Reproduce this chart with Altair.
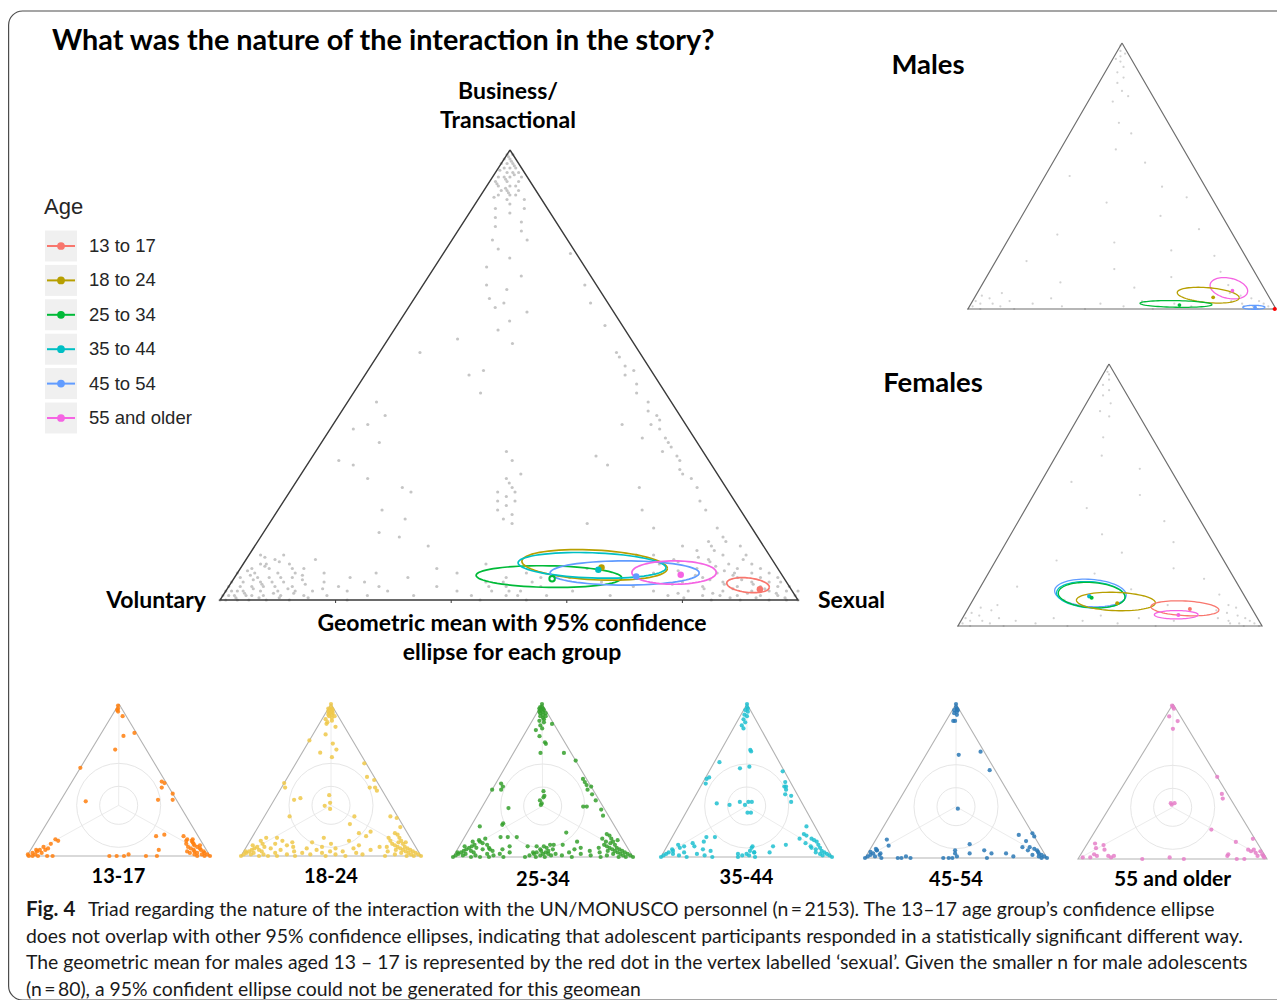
import math
import altair as alt
import pandas as pd

# ------------------------------------------------------------------ data
AGES = ["13 to 17", "18 to 24", "25 to 34", "35 to 44", "45 to 54", "55 and older"]
AGE_COLORS = ["#F8766D", "#B79F00", "#00BA38", "#00BFC4", "#619CFF", "#F564E3"]
SMALL_LABELS = ["13-17", "18-24", "25-34", "35-44", "45-54", "55 and older"]
SMALL_COLORS = ["#ff7f0e", "#eec84a", "#35a02d", "#1fbfd0", "#2a78b5", "#e57fc8"]

# points as (Business/Transactional %, Sexual %); Voluntary = 100 - both
MAIN_GRAY = [
    (99,0),(98,1),(97,1),(96,2),(95,2),(94,3),(93,3),(92,4),(91,4),(90,5),(98,0),(97,2),(96,1),(95,3),(94,1),
    (93,5),(92,2),(91,6),(90,3),(89,5),(88,6),(87,4),(86,7),(85,5),(99,1),(96,3),(94,5),(93,1),(89,8),(87,9),
    (97,0),(95,4),(94,2),(92,5),(91,3),(90,6),
    (98.5,0.5),(97.5,1.5),(96.5,2.5),(95.5,0.5),(94.5,3.5),(93.5,2.5),(92.5,1.5),(91.5,3.5),(90.5,4.5),(89.5,2.5),
    (84,10),(83,6),(82,11),(80,7),(80,13),(78,9),(76,12),(77,22),(74,9),(72,16),(70,11),(69,15),(67,13),(66,16),
    (65,15),(64,21),(62,19),(60,18),(58,12),(57,22),
    (70,28),(66,31),(61,36),(55,41),(54,42),(52,44),(51,46),(50,45),(48,48),(46,49),(44,52),(42,53),(41,55),
    (40,56),(39,55),(38,57),(36,59),(35,60),(34,61),(33,60),(32,63),(31,64),(29,65),(28,66),(27,68),(25,70),
    (22,72),(20,74),(16,78),(13,81),(12,84),(10,86),
    (39,50),(36,55),(32,49),(30,52),(25,60),(20,63),(17,55),(16,67),(12,74),(10,67),(10,70),(9,74),(8,72),
    (31,35),(27,36),(26,37),(25,38),(24,36),(24,39),(23,38),(22,37),(22,40),(21,39),(20,38),(19,41),(18,40),
    (17,42),(28,38),(33,33),
    (55,7),(51,20),(50,18),(46,22),(44,5),(41,8),(39,6),(38,4),(35,10),(31,5),(30,8),(27,12),(25,19),(24,21),
    (20,18),(18,23),(15,20),(14,24),(12,30),(10,6),(9,12),(8,4),(7,9),(6,15),
    (0,0),(1,0),(2,1),(3,0),(4,2),(5,1),(6,3),(7,2),(1,2),(2,3),(3,4),(4,5),(5,6),(6,7),(0,3),(1,5),(2,6),(3,8),
    (4,9),(5,10),(0,8),(1,10),(2,12),(3,11),(6,0),(7,5),(8,3),(3,2),(2,0),(1,7),(0,5),(5,4),(4,0),(8,8),(6,10),
    (0,1),(1,1),(2,2),(0,12),(1,14),(3,6),(4,7),(2,9),(5,8),(9,5),(10,2),(7,11),(1,4),
    (0.5,2.5),(1.5,3.5),(2.5,4.5),(3.5,5.5),(4.5,3.5),(5.5,2.5),(6.5,1.5),(7.5,4),(8.5,6),(9.5,3),(0.5,6.5),
    (1.5,8.5),(2.5,10.5),(3.5,13),(4.5,12),(5.5,11.5),(0.5,10),(1.5,12),(0.5,15),(2.5,16.5),
    (2,15),(4,16),(1,18),(3,19),(5,20),(2,21),(0,22),(4,23),(6,24),(1,25),(3,26),(2,28),(5,30),(1,33),(3,36),
    (6,38),(2,40),(1,43),(4,44),(0,45),(2,46),(5,47),(3,48),(1,49),(6,50),(2,51),(4,52),(0,53),(3,54),(1,56),
    (5,58),(2,60),(4,64),(1,67),(3,70),(6,72),(2,74),(7,34),(8,42),(7,60),(4,47),(2,49),(3,45),(1,51),(5,53),
    (0,100),(1,99),(0,98),(2,97),(1,96),(3,95),(2,94),(4,93),(1,93),(3,92),(5,91),(2,91),(4,90),(6,89),(1,89),
    (3,88),(5,87),(7,86),(2,86),(4,85),(8,84),(6,83),(1,83),(3,82),(5,81),(9,80),(2,80),(7,79),(4,78),(1,77),
    (10,82),(8,88),(6,92),(0,95),(0,90),(1,86),(0,85),(3,97),(2,99),(5,94),(7,90),(9,86),(11,80),(4,95),(6,86),
    (0.5,97.5),(1.5,95.5),(2.5,93),(3.5,90.5),(4.5,88),(5.5,86),(6.5,84),(7.5,82),(8.5,80.5),(9.5,78),(11,77),
    (12,79),(13,78),(14,80),(0.5,92.5),(1.5,90.5),(2.5,87.5),(3.5,85.5),(4.5,82.5),(5.5,79.5),(0.5,88),
    (1.5,84.5),(2.5,82.5),(0.5,80),(1.5,78.5),(3.5,76.5),(6.5,76),(8.5,75),
]
MALE_GRAY = [
    (99,0),(97,1),(95,2),(93,3),(96,3),(94,1),(91,5),(89,4),(87,7),(85,6),(82,9),(80,12),(78,8),
    (70,14),(66,20),(60,18),(55,30),(50,8),(46,40),(42,50),(40,25),(35,45),(30,60),(28,15),(25,35),(22,55),
    (20,70),(18,10),(15,40),(14,75),(12,60),(10,25),(9,80),(8,50),
    (0,0),(1,1),(2,3),(3,1),(4,5),(0,4),(5,2),(2,7),(1,10),(6,8),(3,12),(0,15),(2,20),(4,25),(1,30),
    (0,38),(2,42),(1,50),(3,55),(0,60),(2,66),(1,72),
    (0,99),(1,97),(2,95),(3,93),(1,92),(4,90),(2,88),(5,86),(3,84),(6,82),(0,94),(1,89),
]
FEMALE_GRAY = [
    (99,0),(97,1),(96,2),(94,3),(92,2),(90,5),(88,4),(85,8),(82,6),(80,10),
    (72,12),(65,15),(60,30),(55,10),(50,35),(45,20),(40,48),(35,30),(32,55),(28,40),(25,20),(22,60),(20,35),
    (18,72),(15,12),(14,50),(12,80),(10,30),(8,65),
    (0,0),(1,1),(2,3),(3,1),(4,5),(0,4),(5,2),(2,7),(1,10),(6,8),(3,12),(7,4),(8,9),(0,15),(2,18),
    (1,25),(3,30),(0,36),(2,40),(4,45),(1,52),(3,58),(0,65),(2,70),
    (0,99),(1,97),(2,95),(3,93),(1,92),(4,90),(2,88),(5,86),(3,84),(6,82),(8,85),(0,94),(1,89),(7,88),
]

PTS_13_17 = [
    (99,0),(97,1),(96,1),(95,2),(92,6),(79,13),(81,18),(70,13),(58,0),(49,49),(48,51),(45,51),(37,53),(41,59),
    (37,61),(36,14),(11,10),
    (0,1),(2,2),(3,4),(4,5),(6,6),(4,8),(0,11),(0,14),(0,6),(2,7),(4,3),(1,0),(0,3),(1,4),(5,9),(8,9),(10,12),
    (0,45),(0,49),(0,53),(1,55),(0,65),(0,71),(4,70),(13,64),(14,68),(13,79),(10,82),(11,85),
    (0,100),(1,98),(2,96),(3,95),(4,93),(5,92),(6,90),(7,88),(8,87),(9,86),(10,85),(2,92),(3,90),(4,89),(5,87),
    (1,95),(0,97),(6,85),(8,83),(11,82),(1,91),(3,86),(0,93),(2,88),(7,91),
]
PTS_18_24 = [
    (100,0),(98,1),(97,2),(96,1),(95,3),(94,2),(93,4),(92,3),(91,5),(90,2),(89,6),(88,4),(96,3),(94,4),(92,6),
    (97,0),(95,1),(93,2),
    (87,4),(85,10),(80,7),(74,14),(70,18),(65,18),(68,10),
    (61,38),(52,44),(50,49),(45,52),(43,54),(45,49),(26,70),(25,74),(19,79),(15,78),(9,87),
    (40,29),(35,32),(33,30),(31,34),
    (45,2),(48,0),(37,11),(38,14),(26,14),(76,0),
    (26,50),(21,50),(15,58),(16,64),(13,63),
    (0,0),(1,1),(2,2),(3,3),(4,4),(5,5),(6,6),(2,6),(4,8),(6,10),(8,8),(10,6),(3,10),(1,12),(0,15),(5,14),(8,15),
    (10,18),(12,14),(2,18),(0,20),(4,20),(7,22),(1,25),(3,28),(6,26),(9,24),(0,30),(2,33),(5,34),(1,5),(3,1),
    (7,3),(12,8),(0,10),
    (1,38),(4,40),(2,44),(6,42),(0,47),(3,48),(5,50),(1,52),(8,46),(3,55),(0,58),(5,60),(2,63),(7,62),(1,67),
    (4,70),(6,74),(10,55),(12,40),(9,35),
    (0,100),(1,98),(2,96),(3,94),(4,92),(5,90),(6,88),(8,86),(10,84),(12,82),(2,92),(4,88),(6,84),(8,80),
    (10,78),(1,94),(3,90),(5,86),(7,82),(0,96),(14,80),(12,76),(9,83),(0,92),(2,88),(4,84),(1,85),(3,80),
    (6,78),(0,80),
]
PTS_25_34 = [
    (100,0),(98,1),(97,2),(96,1),(95,3),(94,2),(93,4),(92,3),(91,5),(90,6),(89,4),(88,7),(86,6),(84,8),(96,3),
    (94,5),(92,6),(98,0),(97,0),(95,1),
    (83,5),(79,9),(75,14),(74,15),(68,15),(87,12),
    (68,28),(63,37),(51,47),(47,51),(46,54),(41,57),(37,61),(31,67),(27,70),(33,58),(33,56),(44,53),(49,49),
    (37,30),(35,32),(34,32),(39,31),(40,31),(43,29),
    (48,3),(44,5),(44,0),(46,5),(32,15),(20,5),(21,17),(22,17),(13,20),
    (16,55),(10,64),(8,57),(7,38),(7,43),(8,52),(13,24),(13,29),(7,28),(5,18),
    (0,0),(1,1),(2,2),(3,3),(4,4),(5,5),(6,6),(7,7),(2,6),(4,8),(6,10),(8,8),(10,6),(3,10),(1,12),(0,15),(5,14),
    (8,15),(10,10),(12,12),(2,18),(0,20),(4,20),(6,17),(9,12),(11,9),(1,5),(3,1),(7,3),(0,10),(5,25),(2,25),
    (0,28),(3,30),(1,22),
    (0,40),(1,42),(2,44),(3,45),(4,47),(5,46),(1,48),(2,49),(3,50),(0,51),(4,51),(6,49),(2,52),(1,54),(5,53),
    (3,43),(7,47),(0,46),(8,50),(2,56),
    (1,60),(3,63),(0,66),(5,65),(2,70),(6,68),(4,74),(1,76),
    (0,100),(1,98),(2,96),(3,94),(4,92),(5,90),(6,88),(8,86),(10,84),(12,82),(2,92),(4,88),(6,84),(8,80),
    (10,80),(1,94),(3,90),(5,86),(7,82),(0,96),(14,80),(12,77),(9,83),(0,92),(2,88),(4,84),(1,85),(3,80),
    (6,78),(0,82),(15,78),(11,86),
]
PTS_35_44 = [
    (100,0),(98,1),(97,2),(96,1),(95,3),(93,2),(92,4),(90,3),(88,5),(86,4),(84,6),
    (70,17),(69,18),(59,22),
    (62,3),(51,1),(48,2),(52,2),(58,17),
    (36,28),(34,32),(36,33),(36,35),(29,36),(29,38),(35,15),(34,23),
    (56,43),(49,48),(46,50),(44,51),(41,52),(40,56),(36,58),(46,49),
    (13,25),(13,20),(10,20),(7,16),(7,50),(3,53),(3,62),(7,62),(20,75),(15,76),(12,75),(8,69),
    (0,0),(1,1),(2,2),(3,3),(4,5),(6,8),(2,6),(5,4),(8,6),(1,10),(3,12),(0,15),(2,20),(5,22),(1,25),(4,27),
    (0,30),(7,10),(9,14),
    (0,45),(1,47),(2,49),(4,50),(1,51),(3,53),(0,55),(6,50),(2,44),
    (0,100),(1,98),(2,96),(3,94),(4,92),(6,90),(8,88),(10,86),(5,88),(7,84),(12,82),(2,92),(1,94),(9,80),
    (14,78),(11,84),(3,89),(6,85),
]
PTS_45_54 = [
    (100,0),(98,1),(97,2),(96,1),(95,3),(94,2),(93,4),(96,3),(89,5),(89,4),(67,18),(69,29),(57,40),(32,35),
    (0,0),(1,1),(2,2),(3,3),(4,1),(1,5),(5,4),(2,7),(0,9),(6,3),(12,6),(8,9),(3,7),(5,4),
    (0,18),(0,20),(1,22),(0,25),(0,43),(0,46),(0,48),(5,47),(3,48),(1,50),(9,53),(3,56),(5,63),(3,68),(0,67),
    (3,76),(1,81),
    (15,77),(7,83),(11,83),(5,87),(16,84),(14,86),(7,87),
    (0,100),(1,98),(2,96),(3,94),(4,93),(1,95),(0,97),(5,92),(2,91),(6,90),
]
PTS_55_OLDER = [
    (99,0),(98,1),(97,2),(92,2),(89,8),(84,8),
    (36,31),(36,33),(35,32),
    (53,47),(42,55),(39,57),(19,61),(11,78),(13,86),(6,87),(5,89),(6,90),(4,92),(5,94),(3,96),(2,97),(1,98),
    (2,94),(2,78),(3,78),(0,84),(0,88),
    (10,4),(9,9),(7,6),(6,11),(3,7),(2,9),(2,15),(1,17),(1,2),(1,6),(2,18),
    (0,34),(1,48),(0,56),
]
SMALL_POINTS = [PTS_13_17, PTS_18_24, PTS_25_34, PTS_35_44, PTS_45_54, PTS_55_OLDER]

# confidence ellipses: group, centre (Business %, Sexual %), half-width / half-height
# (fraction of triangle base width / height), tilt in degrees
MAIN_ELLIPSES = [
    ("25 to 34", 5.2, 54.3, 0.126, 0.024, 1),
    ("18 to 24", 7.8, 60.9, 0.126, 0.033, 3),
    ("35 to 44", 7.7, 60.5, 0.128, 0.028, 2),
    ("45 to 54", 6.0, 67.0, 0.129, 0.027, 0),
    ("55 and older", 6.1, 75.5, 0.073, 0.026, 0),
    ("13 to 17", 3.3, 89.7, 0.037, 0.016, 6),
]
MAIN_MEANS = [
    ("18 to 24", 7.2, 62.4), ("35 to 44", 6.7, 62.1), ("45 to 54", 5.2, 69.4),
    ("55 and older", 5.6, 76.9), ("13 to 17", 2.4, 92.2),
]
MAIN_MEAN_HOLLOW = [("25 to 34", 4.7, 55.1)]
MALES_ELLIPSES = [
    ("55 and older", 7.8, 80.8, 0.062, 0.038, 12),
    ("18 to 24", 5.2, 75.4, 0.101, 0.028, 5),
    ("25 to 34", 1.9, 66.6, 0.117, 0.0125, 1),
    ("45 to 54", 0.64, 92.5, 0.036, 0.0075, 0),
]
MALES_MEANS = [("55 and older", 6.9, 82.4), ("18 to 24", 4.4, 77.4), ("25 to 34", 1.5, 67.9),
               ("45 to 54", 0.6, 92.9)]
MALES_13_17_MEAN = [(0.0, 99.6)]
FEMALES_ELLIPSES = [
    ("45 to 54", 12.6, 37.3, 0.118, 0.052, 4),
    ("35 to 44", 11.9, 37.8, 0.113, 0.050, 4),
    ("25 to 34", 11.8, 38.1, 0.110, 0.048, 4),
    ("18 to 24", 9.35, 47.3, 0.130, 0.035, 2),
    ("13 to 17", 6.75, 71.3, 0.112, 0.028, 3),
    ("55 and older", 4.3, 69.65, 0.072, 0.016, 0),
]
FEMALES_MEANS = [("45 to 54", 11.5, 37.45), ("35 to 44", 11.3, 37.55), ("25 to 34", 10.8, 38.6),
                 ("18 to 24", 8.7, 48.05), ("13 to 17", 6.5, 73.05), ("55 and older", 4.2, 70.4)]
BASE_TICKS = [20, 40, 60, 80]

CAPTION_LINES = [
    "Triad regarding the nature of the interaction with the UN/MONUSCO personnel (n\u2009=\u20092153). The 13\u201317 age group\u2019s confidence ellipse",
    "does not overlap with other 95% confidence ellipses, indicating that adolescent participants responded in a statistically significant different way.",
    "The geometric mean for males aged 13 \u2013 17 is represented by the red dot in the vertex labelled \u2018sexual\u2019. Given the smaller n for male adolescents",
    "(n\u2009=\u200980), a 95% confident ellipse could not be generated for this geomean",
]

# ------------------------------------------------------------------ layout
W, H = 1269, 992
X0, Y0 = 8, 8
P_MAIN = ((510, 150), (220, 600), (798, 600))
P_MALES = ((1122, 43), (968, 309), (1276, 309))
P_FEMALES = ((1109, 364), (958, 626), (1262, 626))
P_SMALL = [
    ((119, 704), (27, 856), (210, 856)),
    ((331, 704), (241, 856), (421, 856)),
    ((542, 704), (453, 857), (633, 857)),
    ((747, 704), (661, 857), (832, 857)),
    ((956, 704), (865, 858), (1047, 858)),
    ((1173, 704), (1078, 859), (1267, 859)),
]
SMALL_LABEL_Y = [877, 877, 880, 878, 880, 880]
BOLD = "Lato"
COLOR_OF = dict(zip(AGES, AGE_COLORS))


def tern(panel, T, R):
    (ax, ay), (lx, ly), (rx, ry) = panel
    V = 100.0 - T - R
    return ((T * ax + V * lx + R * rx) / 100.0, (T * ay + V * ly + R * ry) / 100.0)


def pts_df(panel, pts, **extra):
    rows = []
    for T, R in pts:
        x, y = tern(panel, T, R)
        rows.append(dict(x=x, y=y, **extra))
    return pd.DataFrame(rows)


xs = alt.Scale(domain=[X0, X0 + W], nice=False, zero=False)
ys = alt.Scale(domain=[Y0, Y0 + H], nice=False, zero=False, reverse=True)


def XE(f="x"):
    return alt.X(f"{f}:Q", scale=xs, axis=None)


def YE(f="y"):
    return alt.Y(f"{f}:Q", scale=ys, axis=None)


def color_enc():
    return alt.Color("c:N", scale=None, legend=None)


layers = []

# frame
frame = pd.DataFrame([dict(x=8.6, x2=1310, y=11, y2=1000)])
layers.append(alt.Chart(frame).mark_rect(cornerRadius=14, fillOpacity=0, stroke="#4d4d4d",
                                         strokeWidth=1.2).encode(
    x=XE(), x2=alt.X2("x2:Q"), y=YE(), y2=alt.Y2("y2:Q")))

# small-triangle guide circles and spokes
circ_rows, spoke_rows = [], []
for i, panel in enumerate(P_SMALL):
    cx, cy = tern(panel, 100 / 3, 100 / 3)
    circ_rows.append(dict(x=cx, y=cy, s=38 * 38))
    circ_rows.append(dict(x=cx, y=cy, s=84 * 84))
    for T, R in [(100, 0), (0, 0), (0, 100)]:
        vx, vy = tern(panel, T, R)
        spoke_rows.append(dict(x=cx, y=cy, x2=vx, y2=vy))
layers.append(alt.Chart(pd.DataFrame(spoke_rows)).mark_rule(color="#ececec", strokeWidth=1).encode(
    x=XE(), y=YE(), x2=alt.X2("x2:Q"), y2=alt.Y2("y2:Q")))
layers.append(alt.Chart(pd.DataFrame(circ_rows)).mark_point(shape="circle", filled=False, color="#e6e6e6",
                                                            strokeWidth=1, opacity=1).encode(
    x=XE(), y=YE(), size=alt.Size("s:Q", scale=None, legend=None)))

# triangle outlines
def outline_df(panels):
    rows = []
    for pid, panel in enumerate(panels):
        for k, (T, R) in enumerate([(100, 0), (0, 0), (0, 100), (100, 0)]):
            x, y = tern(panel, T, R)
            rows.append(dict(pid=pid, k=k, x=x, y=y))
    return pd.DataFrame(rows)


layers.append(alt.Chart(outline_df(P_SMALL)).mark_line(color="#b3b3b3", strokeWidth=1.1).encode(
    x=XE(), y=YE(), detail="pid:N", order="k:Q"))

# gray points
layers.append(alt.Chart(pts_df(P_MAIN, MAIN_GRAY)).mark_circle(color="#c2c2c2", size=10, opacity=0.95).encode(
    x=XE(), y=YE()))
layers.append(alt.Chart(pts_df(P_MALES, MALE_GRAY)).mark_circle(color="#d0d0d0", size=5, opacity=0.95).encode(
    x=XE(), y=YE()))
layers.append(alt.Chart(pts_df(P_FEMALES, FEMALE_GRAY)).mark_circle(color="#d0d0d0", size=5, opacity=0.95).encode(
    x=XE(), y=YE()))

# small-triangle coloured points
small_frames = [pts_df(P_SMALL[i], SMALL_POINTS[i], c=SMALL_COLORS[i]) for i in range(6)]
layers.append(alt.Chart(pd.concat(small_frames, ignore_index=True)).mark_circle(size=18, opacity=0.85).encode(
    x=XE(), y=YE(), color=color_enc()))

# main / males / females outlines
layers.append(alt.Chart(outline_df([P_MAIN])).mark_line(color="#3a3a3a", strokeWidth=1.4).encode(
    x=XE(), y=YE(), detail="pid:N", order="k:Q"))
layers.append(alt.Chart(outline_df([P_MALES, P_FEMALES])).mark_line(color="#6e6e6e", strokeWidth=1.2).encode(
    x=XE(), y=YE(), detail="pid:N", order="k:Q"))

# base ticks of the main triangle
tick_rows = []
for R in BASE_TICKS:
    x, y = tern(P_MAIN, 0, R)
    tick_rows.append(dict(x=x, y=y, y2=y + 3))
layers.append(alt.Chart(pd.DataFrame(tick_rows)).mark_rule(color="#3a3a3a", strokeWidth=1).encode(
    x=XE(), y=YE(), y2=alt.Y2("y2:Q")))

# ellipses
def ellipse_df(panel, ells, tag):
    (ax, ay), (lx, ly), (rx_, ry_) = panel
    bw, bh = rx_ - lx, ly - ay
    rows = []
    for j, (g, T, R, fu, fv, tilt) in enumerate(ells):
        cx, cy = tern(panel, T, R)
        a, b, th = fu * bw, fv * bh, math.radians(tilt)
        for k in range(0, 73):
            t = math.radians(k * 5)
            ex = cx + a * math.cos(t) * math.cos(th) - b * math.sin(t) * math.sin(th)
            ey = cy + a * math.cos(t) * math.sin(th) + b * math.sin(t) * math.cos(th)
            rows.append(dict(eid=f"{tag}{j}", k=k, x=ex, y=ey, c=COLOR_OF[g]))
    return pd.DataFrame(rows)


layers.append(alt.Chart(ellipse_df(P_MAIN, MAIN_ELLIPSES, "m")).mark_line(strokeWidth=1.7).encode(
    x=XE(), y=YE(), detail="eid:N", order="k:Q", color=color_enc()))
small_ell = pd.concat([ellipse_df(P_MALES, MALES_ELLIPSES, "a"),
                       ellipse_df(P_FEMALES, FEMALES_ELLIPSES, "f")], ignore_index=True)
layers.append(alt.Chart(small_ell).mark_line(strokeWidth=1.3).encode(
    x=XE(), y=YE(), detail="eid:N", order="k:Q", color=color_enc()))

# means
def means_df(panel, means, size):
    rows = []
    for g, T, R in means:
        x, y = tern(panel, T, R)
        rows.append(dict(x=x, y=y, c=COLOR_OF[g], s=size))
    return pd.DataFrame(rows)


mean_all = pd.concat([means_df(P_MAIN, MAIN_MEANS, 42), means_df(P_MALES, MALES_MEANS, 14),
                      means_df(P_FEMALES, FEMALES_MEANS, 16)], ignore_index=True)
layers.append(alt.Chart(mean_all).mark_circle(opacity=1).encode(
    x=XE(), y=YE(), color=color_enc(), size=alt.Size("s:Q", scale=None, legend=None)))
layers.append(alt.Chart(means_df(P_MAIN, MAIN_MEAN_HOLLOW, 30)).mark_point(
    shape="circle", filled=False, strokeWidth=2, opacity=1).encode(
    x=XE(), y=YE(), color=color_enc(), size=alt.Size("s:Q", scale=None, legend=None)))
male_red = pts_df(P_MALES, MALES_13_17_MEAN)
layers.append(alt.Chart(male_red).mark_circle(color="#ff0000", size=16, opacity=1).encode(x=XE(), y=YE()))

# legend
leg_rows = []
for i, g in enumerate(AGES):
    yc = 246 + i * 34.4
    leg_rows.append(dict(g=g, c=COLOR_OF[g], yc=yc, y0=yc - 15.5, y1=yc + 15.5, bx0=45, bx1=77,
                         lx0=47, lx1=75, dx=61, tx=89))
leg = pd.DataFrame(leg_rows)
layers.append(alt.Chart(leg).mark_rect(color="#f0f0f0").encode(
    x=XE("bx0"), x2=alt.X2("bx1:Q"), y=YE("y0"), y2=alt.Y2("y1:Q")))
layers.append(alt.Chart(leg).mark_rule(strokeWidth=2).encode(
    x=XE("lx0"), x2=alt.X2("lx1:Q"), y=YE("yc"), color=color_enc()))
layers.append(alt.Chart(leg).mark_circle(size=60, opacity=1).encode(
    x=XE("dx"), y=YE("yc"), color=color_enc()))
layers.append(alt.Chart(leg).mark_text(font="Liberation Sans", fontSize=18.5, align="left", baseline="middle",
                                       color="#262626").encode(x=XE("tx"), y=YE("yc"), text="g:N"))


def text_layer(rows, size, weight="bold", align="center", font=BOLD, color="#000000"):
    df = pd.DataFrame(rows, columns=["t", "x", "y"])
    return alt.Chart(df).mark_text(font=font, fontSize=size, fontWeight=weight, align=align,
                                   baseline="middle", color=color).encode(x=XE(), y=YE(), text="t:N")


layers.append(text_layer([("Age", 44, 207)], 22, weight="normal", align="left", font="Liberation Sans",
                         color="#262626"))
layers.append(text_layer([("What was the nature of the interaction in the story?", 52, 41)], 28.8, align="left"))
layers.append(text_layer([("Business/", 508, 92), ("Transactional", 508, 121),
                          ("Geometric mean with 95% confidence", 512, 624),
                          ("ellipse for each group", 512, 653)], 23))
layers.append(text_layer([("Voluntary", 206, 601)], 23, align="right"))
layers.append(text_layer([("Sexual", 818, 601)], 23, align="left"))
layers.append(text_layer([("Males", 928, 66), ("Females", 933, 384)], 27.5))
layers.append(text_layer([(SMALL_LABELS[i], (P_SMALL[i][1][0] + P_SMALL[i][2][0]) / 2, SMALL_LABEL_Y[i])
                          for i in range(5)], 20))
layers.append(text_layer([(SMALL_LABELS[5], (P_SMALL[5][1][0] + P_SMALL[5][2][0]) / 2, SMALL_LABEL_Y[5])], 21))
layers.append(text_layer([("Fig. 4", 26, 910)], 20.5, align="left", color="#1a1a1a"))
cap_rows = [(CAPTION_LINES[0], 88, 910)] + [(CAPTION_LINES[k], 26, 910 + 26.7 * k) for k in range(1, 4)]
layers.append(text_layer(cap_rows, 19.4, weight="normal", align="left", color="#1a1a1a"))

chart = alt.layer(*layers).properties(
    width=W, height=H, padding=0, autosize=alt.AutoSizeParams(type="none")
).configure_view(stroke=None)

chart.save("out.html", embed_options={"renderer": "svg", "actions": False})
